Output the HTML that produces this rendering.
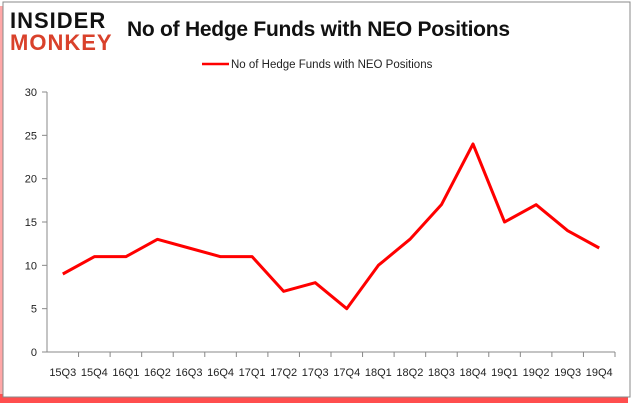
<!DOCTYPE html>
<html><head><meta charset="utf-8"><style>
body{margin:0;background:#fff;}
svg{display:block;font-family:"Liberation Sans",sans-serif;}
</style></head><body>
<svg id="c" width="637" height="408">
<rect x="0" y="6" width="628" height="397" fill="#f22" opacity="0.8"/>
<rect x="0" y="6" width="3" height="388" fill="#fff" opacity="0.5"/>
<rect x="3" y="2" width="627" height="395" fill="#fff" stroke="#888" stroke-width="1"/>
<text x="10" y="28" font-size="22" font-weight="bold" fill="#111" letter-spacing="1">INSIDER</text>
<text x="10" y="50" font-size="22" font-weight="bold" fill="#d9412b" letter-spacing="1">MONKEY</text>
<text x="127" y="36" font-size="21" font-weight="bold" fill="#111" textLength="383">No of Hedge Funds with NEO Positions</text>
<line x1="202" y1="64" x2="229" y2="64" stroke="red" stroke-width="2.5"/>
<text x="231" y="68" font-size="11.5" fill="#222">No of Hedge Funds with NEO Positions</text>
<g id="axes"></g>
</svg>
<script>
const categories=["15Q3","15Q4","16Q1","16Q2","16Q3","16Q4","17Q1","17Q2","17Q3","17Q4","18Q1","18Q2","18Q3","18Q4","19Q1","19Q2","19Q3","19Q4"];
const values=[9,11,11,13,12,11,11,7,8,5,10,13,17,24,15,17,14,12];
const yTicks=[0,5,10,15,20,25,30];
const NS="http://www.w3.org/2000/svg";
const g=document.getElementById('axes');
const x0=47,x1=615,y0=352,y1=92;
const bw=(x1-x0)/categories.length;
const xs=i=>x0+bw*(i+0.5);
const ys=v=>y0-(v/30)*(y0-y1);
function mk(t,a){const e=document.createElementNS(NS,t);for(const k in a)e.setAttribute(k,a[k]);g.appendChild(e);return e;}
let e=mk('line',{x1:x0,y1:y1,x2:x0,y2:y0,stroke:'#888'});


e=mk('line',{x1:x0,y1:y0,x2:x1,y2:y0,stroke:'#888'});


yTicks.forEach(v=>{
 const t=mk('line',{x1:x0-5,y1:ys(v),x2:x0,y2:ys(v),stroke:'#888'});
 
 
 const l=mk('text',{x:x0-10,y:ys(v)+4,'font-size':11,'text-anchor':'end',fill:'#222'});
 l.textContent=v;
 
 
});
categories.forEach((c,i)=>{
 const t=mk('line',{x1:x0+bw*(i+1),y1:y0,x2:x0+bw*(i+1),y2:y0+5,stroke:'#888'});
 
 
 const l=mk('text',{x:xs(i),y:y0+24,'font-size':11,'text-anchor':'middle',fill:'#222'});
 l.textContent=c;
 
 
});
const p=mk('polyline',{points:values.map((v,i)=>xs(i)+','+ys(v)).join(' '),fill:'none',stroke:'red','stroke-width':3,'stroke-linejoin':'round'});


</script>
</body></html>
